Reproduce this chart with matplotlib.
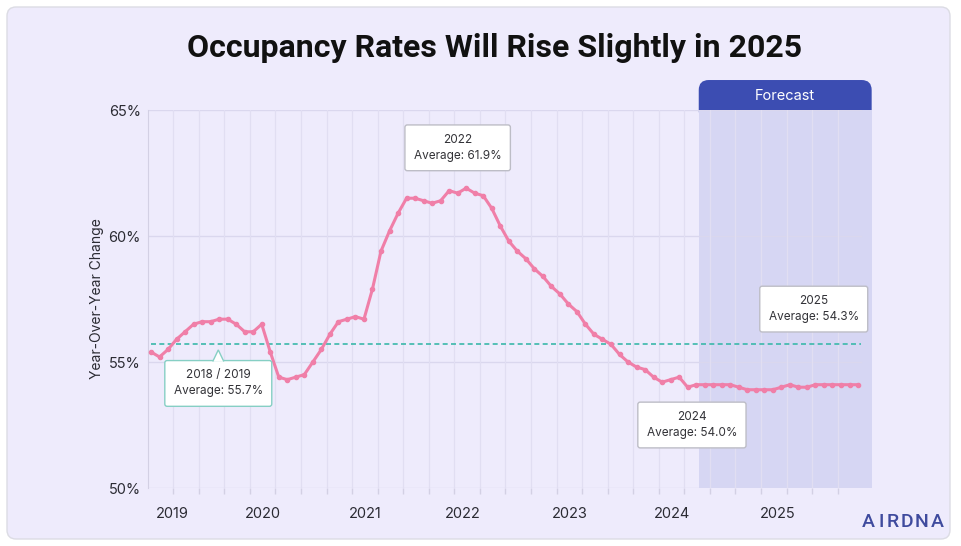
import matplotlib
matplotlib.use("Agg")
import matplotlib.pyplot as plt
from matplotlib.patches import FancyBboxPatch, Polygon
from matplotlib.transforms import IdentityTransform

# monthly occupancy, Jan 2019 .. Dec 2025 (index 0..83)
occupancy = [
    55.4, 55.2, 55.5, 55.9, 56.2, 56.5, 56.6, 56.6, 56.7, 56.7, 56.5, 56.2,
    56.2, 56.5, 55.4, 54.4, 54.3, 54.4, 54.5, 55.0, 55.5, 56.1, 56.6, 56.7,
    56.8, 56.7, 57.9, 59.4, 60.2, 60.9, 61.5, 61.5, 61.4, 61.3, 61.4, 61.8,
    61.7, 61.9, 61.7, 61.6, 61.1, 60.4, 59.8, 59.4, 59.1, 58.7, 58.4, 58.0,
    57.7, 57.3, 57.0, 56.5, 56.1, 55.9, 55.7, 55.3, 55.0, 54.8, 54.7, 54.4,
    54.2, 54.3, 54.4, 54.0, 54.1, 54.1, 54.1, 54.1, 54.1, 54.0, 53.9, 53.9,
    53.9, 53.9, 54.0, 54.1, 54.0, 54.0, 54.1, 54.1, 54.1, 54.1, 54.1, 54.1,
]
years = ["2019", "2020", "2021", "2022", "2023", "2024", "2025"]
year_pos = [2.5, 13.1, 25.1, 36.6, 49.2, 61.2, 73.6]
baseline_avg = 55.7
forecast_start = 64.3

annotations = [
    ("2022\nAverage: 61.9%", 36.0, 63.5),
    ("2018 / 2019\nAverage: 55.7%", 7.9, 54.15),
    ("2024\nAverage: 54.0%", 63.5, 52.5),
    ("2025\nAverage: 54.3%", 77.8, 57.1),
]

plt.rcParams['font.family'] = ['Inter', 'DejaVu Sans']

bg = '#EEEBFC'
grid_c = '#E1DEF2'
pink = '#F07FA8'
teal = '#3BB8AA'
text_c = '#2B2B33'

fig = plt.figure(figsize=(9.62, 5.46), dpi=100)
fig.patch.set_facecolor('white')

# card background
card = FancyBboxPatch((7, 7), 943, 532, boxstyle='round,pad=0,rounding_size=9',
                      transform=IdentityTransform(), fc=bg, ec='#DCDCE4', lw=1, zorder=-5)
fig.patches.append(card)

ax = fig.add_axes([0.1535, 0.1062, 0.7526, 0.6923])
ax.set_facecolor('none')
x = list(range(len(occupancy)))
xmin, xmax, xgrid_end = -0.39, 84.6, 83.3
ax.set_xlim(xmin, xmax)
ax.set_ylim(50, 65)

# forecast band
ax.axvspan(forecast_start, xmax, color='#D6D6F3', zorder=0, lw=0)

# horizontal grid
for v in [50, 55, 60, 65]:
    ax.plot([xmin, xgrid_end], [v, v], color='#DAD7EE', lw=1, zorder=1)

# quarterly vertical grid + ticks
quarters = [2.61 + 3 * k for k in range(27)]
ax.set_xticks(quarters, minor=True)
ax.grid(which='minor', axis='x', color=grid_c, lw=0.9, zorder=1)
ax.set_xticks(year_pos)
ax.set_xticklabels(years)
ax.tick_params(axis='x', which='major', length=0, pad=14, labelsize=10.5, labelcolor=text_c)
ax.tick_params(axis='x', which='minor', length=4, width=1, color='#D3D0E4')

ax.set_yticks([50, 55, 60, 65])
ax.set_yticklabels(['50%', '55%', '60%', '65%'])
ax.tick_params(axis='y', length=0, pad=5, labelsize=10.5, labelcolor=text_c)
ax.set_ylabel('Year-Over-Year Change', fontsize=10, color=text_c, labelpad=3)

for s in ['top', 'right', 'bottom']:
    ax.spines[s].set_visible(False)
ax.spines['left'].set_color('#D3D0E4')

# baseline average
ax.plot([0, xgrid_end], [baseline_avg, baseline_avg], color=teal, lw=1.2,
        ls=(0, (3, 2)), zorder=2)

ax.plot(x, occupancy, color=pink, lw=2.2, marker='o', ms=3.0, zorder=3)

# annotation boxes
for txt, ax_x, ax_y in annotations:
    ec = '#86CFC4' if '2018' in txt else '#BDBDC6'
    ax.text(ax_x, ax_y, txt, ha='center', va='center', fontsize=8.5, color='#333338',
            linespacing=1.45, zorder=6,
            bbox=dict(boxstyle='round,pad=0.75,rounding_size=0.2', fc='white', ec=ec, lw=1))

# pointer on 2018/2019 box
tri = Polygon([(7.25, 55.02), (7.9, 55.48), (8.55, 55.02)], closed=False,
              fc='white', ec='#86CFC4', lw=1, zorder=7)
ax.add_patch(tri)

# forecast tab
x0, ytop = ax.transData.transform((forecast_start, 65))
x1, _ = ax.transData.transform((xmax, 65))
tab = FancyBboxPatch((x0, ytop - 10), x1 - x0, 40, boxstyle='round,pad=0,rounding_size=10',
                     transform=IdentityTransform(), fc='#3C4DB2', ec='none', zorder=-1)
fig.patches.append(tab)
fig.text((x0 + x1) / 2 / 962, (ytop + 14) / 546, 'Forecast', ha='center', va='center',
         color='white', fontsize=10.5)

fig.text(0.5146, 0.913, 'Occupancy Rates Will Rise Slightly in 2025', ha='center', va='center',
         fontsize=23, fontweight='bold', color='#111111', family=['Roboto', 'DejaVu Sans'])

# logo, letter-spaced
logo = 'AIRDNA'
logo_x = [868, 881, 893, 907, 922, 937]
for ch, lx in zip(logo, logo_x):
    fig.text(lx / 962, 1 - 522 / 546, ch, ha='center', va='center', fontsize=14,
             color='#3F4B9E', fontweight='medium', family=['Roboto', 'DejaVu Sans'])

fig.savefig('out.png', dpi=100, facecolor=fig.get_facecolor())
